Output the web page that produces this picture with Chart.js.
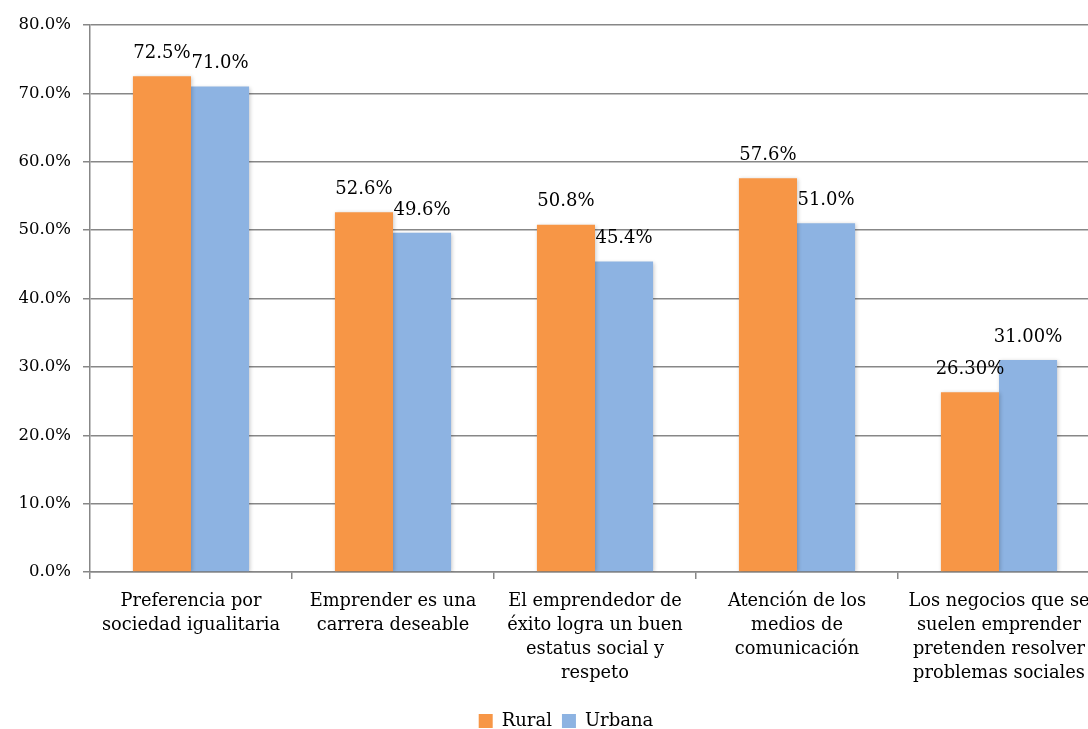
<!DOCTYPE html>
<html>
<head>
<meta charset="utf-8">
<script src="https://cdn.jsdelivr.net/npm/chart.js@4/dist/chart.umd.min.js"></script>
<style>
html,body{margin:0;padding:0;background:#fff;overflow:hidden;width:1088px;height:729px;}
canvas{display:block;}
</style>
</head>
<body>
<canvas id="c" width="1132" height="740" style="width:1132px;height:740px"></canvas>
<script>
const categories = [
  ['Preferencia por', 'sociedad igualitaria'],
  ['Emprender es una', 'carrera deseable'],
  ['El emprendedor de', 'éxito logra un buen', 'estatus social y', 'respeto'],
  ['Atención de los', 'medios de', 'comunicación'],
  ['Los negocios que se', 'suelen emprender', 'pretenden resolver', 'problemas sociales']
];
const ruralValues = [72.5, 52.6, 50.8, 57.6, 26.3];
const urbanaValues = [71.0, 49.6, 45.4, 51.0, 31.0];
const ruralLabels = ['72.5%', '52.6%', '50.8%', '57.6%', '26.30%'];
const urbanaLabels = ['71.0%', '49.6%', '45.4%', '51.0%', '31.00%'];
const yTicks = [0, 10, 20, 30, 40, 50, 60, 70, 80];

const FONT = "'DejaVu Serif', serif";
const GRID = '#878787';

const valueLabelPlugin = {
  id: 'valueLabels',
  afterDatasetsDraw(chart) {
    const ctx = chart.ctx;
    const texts = [ruralLabels, urbanaLabels];
    ctx.save();
    ctx.font = '18px ' + FONT;
    ctx.fillStyle = '#000';
    ctx.textAlign = 'center';
    ctx.textBaseline = 'middle';
    chart.data.datasets.forEach((ds, i) => {
      const meta = chart.getDatasetMeta(i);
      meta.data.forEach((el, j) => {
        ctx.fillText(texts[i][j], el.x, el.y - 23);
      });
    });
    ctx.restore();
  }
};

const shadowPlugin = {
  id: 'barShadow',
  beforeDatasetsDraw(chart) {
    const ctx = chart.ctx;
    ctx.save();
    ctx.shadowColor = 'rgba(0,0,0,0.22)';
    ctx.shadowBlur = 4;
    ctx.shadowOffsetX = 1;
    ctx.shadowOffsetY = 1;
  },
  afterDatasetsDraw(chart) {
    chart.ctx.restore();
  }
};

const legendShiftPlugin = {
  id: 'legendShift',
  afterLayout(chart) {
    if (chart.legend) {
      chart.legend.left += 16;
      chart.legend.right += 16;
    }
  }
};

new Chart(document.getElementById('c'), {
  type: 'bar',
  data: {
    labels: categories,
    datasets: [
      { label: 'Rural', data: ruralValues, backgroundColor: '#F79646', borderWidth: 0 },
      { label: 'Urbana', data: urbanaValues, backgroundColor: '#8DB3E2', borderWidth: 0 }
    ]
  },
  options: {
    responsive: false,
    devicePixelRatio: 1,
    animation: false,
    layout: { padding: { top: 25, right: 32, left: 0, bottom: 0 } },
    datasets: { bar: { barPercentage: 1, categoryPercentage: 0.575 } },
    plugins: {
      legend: {
        position: 'bottom',
        labels: {
          font: { family: FONT, size: 18 },
          color: '#000',
          boxWidth: 14,
          boxHeight: 14,
          padding: 10
        }
      },
      tooltip: { enabled: false }
    },
    scales: {
      y: {
        min: 0,
        max: 80,
        afterBuildTicks(scale) { scale.ticks = yTicks.map(v => ({ value: v })); },
        afterFit(scale) { scale.width = 90; },
        ticks: {
          font: { family: FONT, size: 16.5 },
          color: '#000',
          padding: 12,
          callback: v => v.toFixed(1) + '%'
        },
        grid: { color: GRID, lineWidth: 1.5, tickLength: 7, drawTicks: true },
        border: { color: GRID, width: 1.5 }
      },
      x: {
        afterFit(scale) { scale.height = 130; },
        ticks: {
          font: { family: FONT, size: 17.8, lineHeight: 1.35 },
          color: '#000',
          padding: 10,
          maxRotation: 0,
          autoSkip: false
        },
        grid: { offset: true, drawOnChartArea: false, color: GRID, lineWidth: 1.5, tickLength: 7 },
        border: { color: GRID, width: 1.5 }
      }
    }
  },
  plugins: [shadowPlugin, valueLabelPlugin, legendShiftPlugin]
});
</script>
</body>
</html>
